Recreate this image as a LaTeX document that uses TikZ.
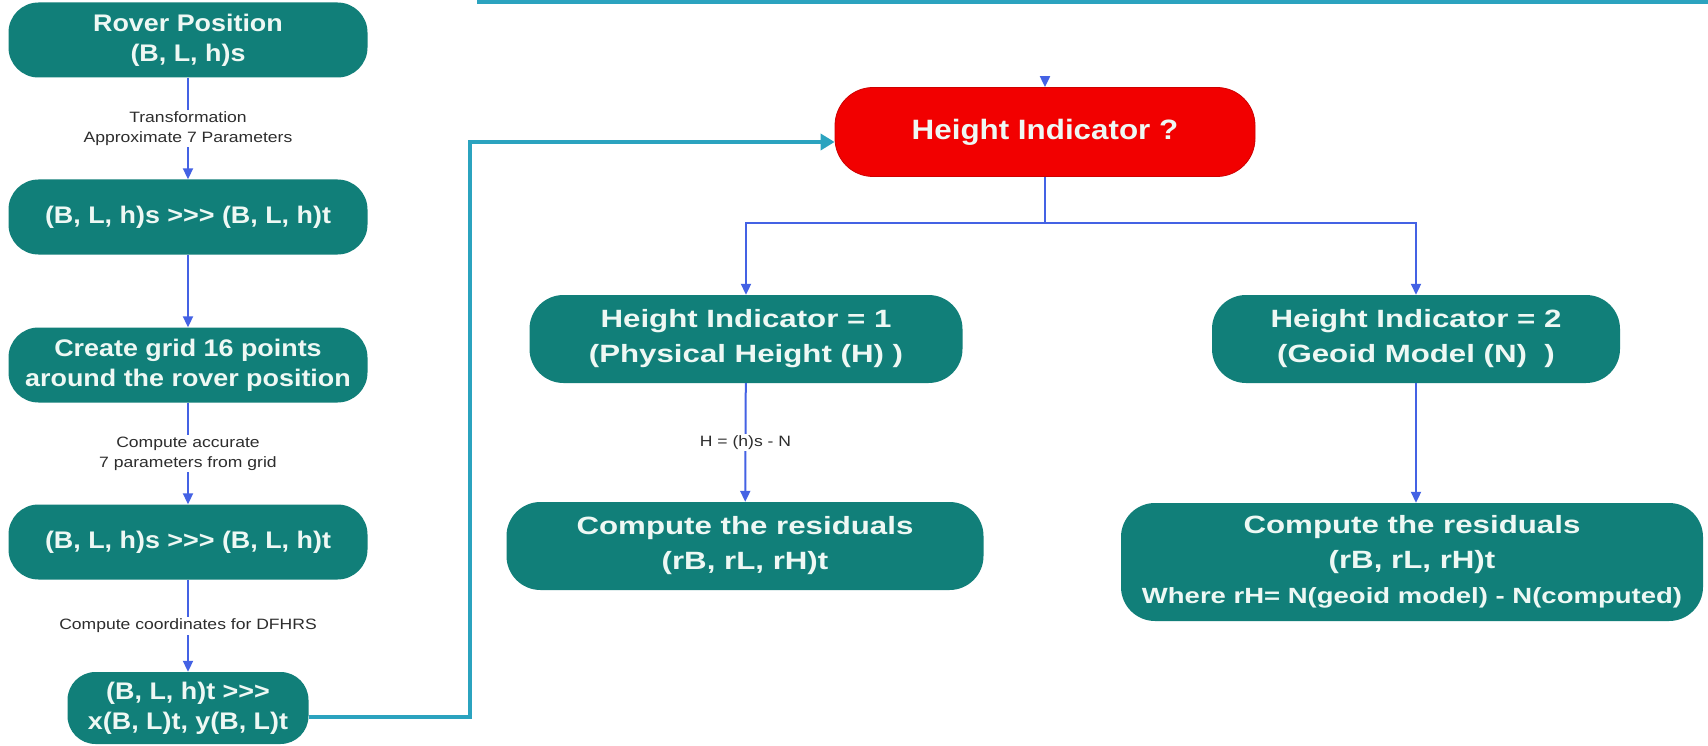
\documentclass[tikz,border=0pt]{standalone}
\usepackage{fontspec}
\setmainfont{Liberation Sans}
\newfontfamily\boxfontL[FakeStretch=1.12]{Liberation Sans}
\newfontfamily\boxfontR[FakeStretch=1.25]{Liberation Sans}
\newfontfamily\labelfont[FakeStretch=1.17]{Liberation Sans}
\usetikzlibrary{arrows.meta}
\definecolor{boxteal}{RGB}{17,127,121}
\definecolor{boxtext}{RGB}{238,248,244}
\definecolor{flowblue}{RGB}{68,98,228}
\definecolor{linkteal}{RGB}{43,163,191}
\definecolor{alertred}{RGB}{242,0,0}
\definecolor{labelgray}{RGB}{45,45,45}
\tikzset{
  stepL/.style={draw=none, fill=boxteal, text=boxtext, rounded corners=30pt,
    align=center, inner sep=0pt, minimum width=359pt, minimum height=75pt,
    font=\boxfontL\bfseries\fontsize{24}{30}\selectfont},
  stepR/.style={draw=none, fill=boxteal, text=boxtext, rounded corners=34pt,
    align=center, inner sep=0pt, minimum height=88pt,
    font=\boxfontR\bfseries\fontsize{25}{35}\selectfont},
  decision/.style={draw=alertred!85!black, line width=0.8pt, fill=alertred, text=boxtext,
    rounded corners=38pt, align=center, inner sep=0pt,
    minimum width=420pt, minimum height=89pt,
    font=\boxfontL\bfseries\fontsize{28}{34}\selectfont},
  flow/.style={draw=flowblue, line width=2pt, -{Triangle[length=11pt,width=10pt]}},
  link/.style={draw=linkteal, line width=4pt, -{Triangle[length=14pt,width=16pt]}},
  edgelabel/.style={fill=white, text=labelgray, align=center, inner sep=2pt,
    font=\labelfont\fontsize{15}{20}\selectfont},
}
\begin{document}
\begin{tikzpicture}[x=1pt,y=-1pt]
\useasboundingbox (0,0) rectangle (1708,746);
\fill[white] (0,0) rectangle (1708,746);

% top rule
\draw[linkteal, line width=4pt] (477,2) -- (1708,2);

% left column
\node[stepL] (rover) at (188,40) {Rover Position\\(B, L, h)s};
\node[stepL] (tr1) at (188,217) {(B, L, h)s >>> (B, L, h)t};
\node[stepL] (grid) at (188,365) {Create grid 16 points\\around the rover position};
\node[stepL] (tr2) at (188,542) {(B, L, h)s >>> (B, L, h)t};
\node[stepL, minimum width=241pt, minimum height=72pt, rounded corners=28pt] (xy) at (188,708)
  {(B, L, h)t >>>\\x(B, L)t, y(B, L)t};

\draw[flow] (rover) -- node[edgelabel]{Transformation\\Approximate 7 Parameters} (tr1);
\draw[flow] (tr1) -- (grid);
\draw[flow] (grid) -- node[edgelabel]{Compute accurate\\7 parameters from grid} (tr2);
\draw[flow] (tr2) -- node[edgelabel]{Compute coordinates for DFHRS} (xy);

% decision
\node[decision] (hq) at (1045,132) {Height Indicator ?};
\coordinate (feed) at (1045,76);
\draw[flow] (feed) -- (hq.north);

\coordinate (bend) at (470,717);
\draw[link] ([yshift=-9pt]xy.east) -- (bend) |- ([yshift=-10pt]hq.west);

% right branches
\node[stepR, minimum width=433pt] (hi1) at (746,339) {Height Indicator = 1\\(Physical Height (H) )};
\node[stepR, minimum width=408pt] (hi2) at (1416,339) {Height Indicator = 2\\(Geoid Model (N)\ \ )};
\node[stepR, minimum width=477pt] (res1) at (745,546) {Compute the residuals\\(rB, rL, rH)t};
\node[stepR, minimum width=582pt, minimum height=118pt] (res2) at (1412,562)
  {Compute the residuals\\(rB, rL, rH)t\\{\fontsize{22}{34}\selectfont Where rH= N(geoid model) - N(computed)}};

\coordinate (split) at (1045,223);
\draw[flow] (hq.south) -- (split) -| (hi1.north);
\draw[flow] (split) -| (hi2.north);
\draw[flow] (hi1) -- node[edgelabel]{H = (h)s - N} (res1);
\draw[flow] (hi2.south) -- (hi2.south |- res2.north);
\end{tikzpicture}
\end{document}
